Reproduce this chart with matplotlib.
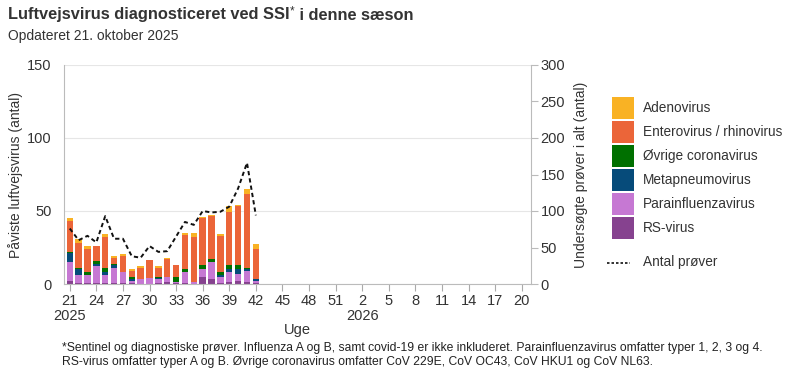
import matplotlib
matplotlib.use("Agg")
import matplotlib.pyplot as plt
from matplotlib.patches import Rectangle
from matplotlib.lines import Line2D
import numpy as np

plt.rcParams['font.family'] = ['Liberation Sans', 'DejaVu Sans']

# Weeks 21/2025 .. 20/2026
weeks = list(range(21, 53)) + list(range(1, 21))
observed_weeks = list(range(21, 43))

rs_virus =      [2, 1, 1, 1, 1, 1, 0.5, 0.5, 0, 0, 1, 1.5, 0.5, 1, 0, 5, 3.6, 0.7, 1.5, 2.3, 1.6, 1]
parainfluenza = [13, 5, 5, 11, 5, 10, 8, 1.5, 3.5, 4, 2.5, 3.5, 1, 7.5, 1.5, 5.3, 11.4, 4, 6.5, 4.6, 7.3, 1.2]
metapneumo =    [6, 4, 0, 2, 2, 2, 0, 1.5, 0, 0, 0.5, 0, 0, 0, 0, 0, 0, 1.2, 2, 3.4, 1.1, 1.4]
corona =        [1, 1, 2, 2, 3, 1, 0, 1, 0, 0, 0.5, 0, 3, 2, 0, 2.7, 2, 2, 2.7, 2.7, 1, 0]
entero_rhino =  [21, 17, 16, 10, 21, 3.5, 10.5, 4.5, 7.5, 12.5, 6.5, 12, 8.5, 23, 31, 32, 29.5, 25, 36.5, 40.5, 50.7, 20.3]
adeno =         [2, 3, 2, 0, 2, 1.5, 1.5, 1.5, 1.5, 0, 1.5, 0.7, 0, 1.2, 2.7, 0.7, 0.7, 1.4, 4, 0.7, 3.4, 3.4]
antal_prover =  [76, 60, 66, 57, 93, 62, 62, 38, 36, 52, 44, 45, 65, 85, 81, 100, 98, 99, 106, 131, 166, 94]

series = [
    ("RS-virus", rs_virus, "#86428F"),
    ("Parainfluenzavirus", parainfluenza, "#C678D3"),
    ("Metapneumovirus", metapneumo, "#064B7A"),
    ("Øvrige coronavirus", corona, "#007000"),
    ("Enterovirus / rhinovirus", entero_rhino, "#EB6539"),
    ("Adenovirus", adeno, "#F9B224"),
]

W, H = 800, 375
fig = plt.figure(figsize=(W / 100, H / 100), dpi=100)
ax = fig.add_axes([64 / W, 1 - 284 / H, (531 - 64) / W, (284 - 65) / H])

x = np.arange(len(observed_weeks))
bottom = np.zeros(len(observed_weeks))
for name, vals, col in series:
    v = np.array(vals, dtype=float)
    ax.bar(x, v, bottom=bottom, width=0.72, color=col, linewidth=0)
    bottom += v

ax.set_ylim(0, 150)
ax.set_xlim(-0.65, 52.05)
ax.set_yticks([0, 50, 100, 150])
ax.grid(axis='y', color='#e6e6e6', linewidth=0.8)
ax.set_axisbelow(True)

tick_idx = list(range(0, len(weeks), 3))
labels = []
for i in tick_idx:
    w = weeks[i]
    if i == 0:
        labels.append(f"{w}\n2025")
    elif w == 2:
        labels.append(f"{w}\n2026")
    else:
        labels.append(str(w))
ax.set_xticks(tick_idx)
ax.set_xticklabels(labels, fontsize=10.5, color='#333333', linespacing=1.15)
ax.tick_params(axis='x', length=5, color='#aaaaaa', pad=2)
ax.tick_params(axis='y', length=0, labelsize=10.5, labelcolor='#333333', pad=9)
ax.set_xlabel("Uge", fontsize=10.5, color='#333333', labelpad=0)
ax.set_ylabel("Påviste luftvejsvirus (antal)", fontsize=10, color='#333333', labelpad=3)

for s in ['top', 'right']:
    ax.spines[s].set_visible(False)
ax.spines['left'].set_color('#bbbbbb')
ax.spines['bottom'].set_color('#bbbbbb')

ax2 = ax.twinx()
ax2.plot(x, antal_prover, color='#111111', linestyle=(0, (2.2, 1.6)), linewidth=1.4)
ax2.set_ylim(0, 300)
ax2.set_yticks([0, 50, 100, 150, 200, 250, 300])
ax2.tick_params(axis='y', length=5, color='#bbbbbb', labelsize=10.5, labelcolor='#333333', pad=2)
for s in ['top', 'left', 'bottom']:
    ax2.spines[s].set_visible(False)
ax2.spines['right'].set_color('#bbbbbb')
ax2.set_ylabel("Undersøgte prøver i alt (antal)", fontsize=10, color='#333333', labelpad=6)

# Title and subtitle
renderer = fig.canvas.get_renderer()
t1 = fig.text(8 / W, 1 - 15 / H, "Luftvejsvirus diagnosticeret ved SSI", fontsize=11.8,
              fontweight='bold', color='#333333', va='center', ha='left')
bb = t1.get_window_extent(renderer)
x_end = bb.x1 / W
t2 = fig.text(x_end + 0.5 / W, 1 - 11 / H, "*", fontsize=8.5, color='#333333', va='center', ha='left')
bb2 = t2.get_window_extent(renderer)
fig.text(bb2.x1 / W, 1 - 15 / H, " i denne sæson", fontsize=11.8,
         fontweight='bold', color='#333333', va='center', ha='left')
fig.text(8 / W, 1 - 36 / H, "Opdateret 21. oktober 2025", fontsize=10,
         color='#333333', va='center', ha='left')

# Legend
legend_order = ["Adenovirus", "Enterovirus / rhinovirus", "Øvrige coronavirus",
                "Metapneumovirus", "Parainfluenzavirus", "RS-virus"]
cols = {n: c for n, _, c in series}
for k, name in enumerate(legend_order):
    ytop = 97 + 24 * k
    fig.add_artist(Rectangle((612 / W, 1 - (ytop + 22) / H), 22 / W, 22 / H,
                             transform=fig.transFigure, color=cols[name], linewidth=0))
    fig.text(643 / W, 1 - (ytop + 11) / H, name, fontsize=9.8, color='#333333',
             va='center', ha='left')
fig.add_artist(Line2D([607 / W, 630 / W], [1 - 263 / H, 1 - 263 / H],
                      transform=fig.transFigure, color='#111111',
                      linestyle=(0, (1.5, 1.2)), linewidth=1.2))
fig.text(643 / W, 1 - 262 / H, "Antal prøver", fontsize=9.8, color='#333333',
         va='center', ha='left')

# Footnote
fig.text(62 / W, 1 - 348 / H,
         "*Sentinel og diagnostiske prøver. Influenza A og B, samt covid-19 er ikke inkluderet. "
         "Parainfluenzavirus omfatter typer 1, 2, 3 og 4.",
         fontsize=8.75, color='#222222', va='center', ha='left')
fig.text(62 / W, 1 - 362 / H,
         "RS-virus omfatter typer A og B. Øvrige coronavirus omfatter CoV 229E, CoV OC43, "
         "CoV HKU1 og CoV NL63.",
         fontsize=8.75, color='#222222', va='center', ha='left')

fig.savefig("out.png", dpi=100)
